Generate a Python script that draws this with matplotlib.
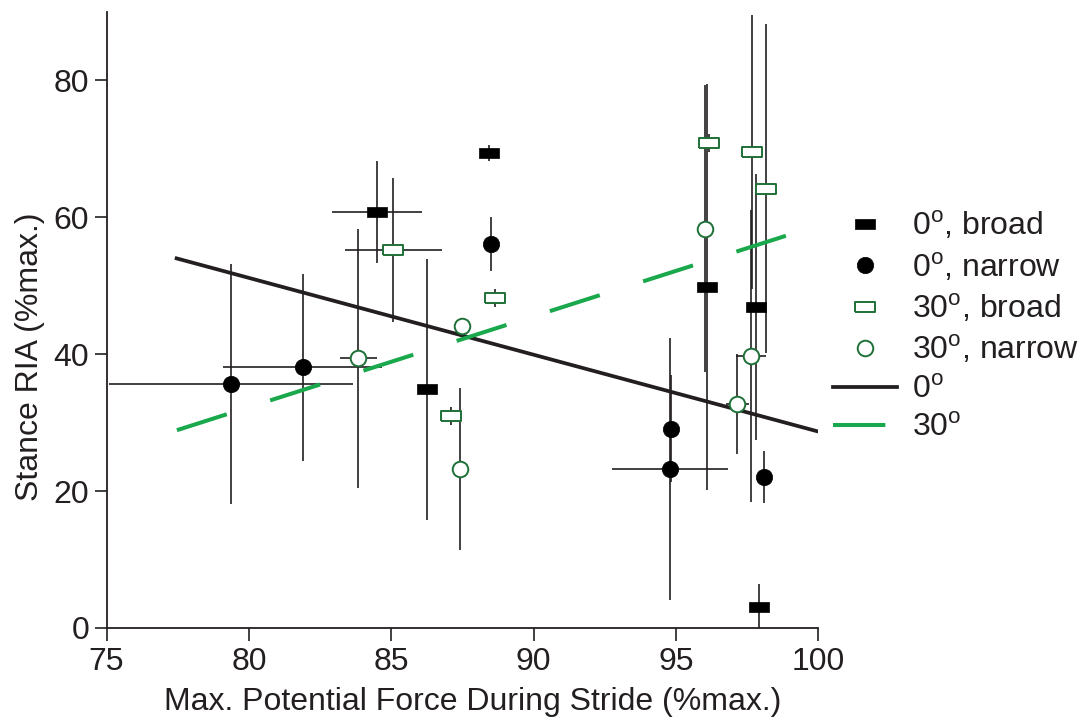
import matplotlib
matplotlib.use("Agg")
import matplotlib.pyplot as plt
import numpy as np

plt.rcParams['font.family'] = ['Liberation Sans', 'DejaVu Sans']
plt.rcParams['mathtext.fontset'] = 'custom'
plt.rcParams['mathtext.rm'] = 'Liberation Sans'

# 0 deg incline, broad base
broad0_x = [84.51, 88.44, 86.26, 96.09, 97.80, 97.91]
broad0_y = [60.83, 69.36, 34.88, 49.82, 46.90, 3.07]
broad0_xerr = [1.58, 0, 0, 0, 0, 0]
broad0_yerr = [7.45, 1.2, 19.1, 29.7, 19.4, 3.3]

# 0 deg incline, narrow base
narrow0_x = [79.37, 81.89, 88.49, 94.81, 94.79, 98.10]
narrow0_y = [35.65, 38.09, 56.11, 29.13, 23.23, 22.11]
narrow0_xerr = [4.3, 2.8, 0, 0, 2.05, 0]
narrow0_yerr = [17.5, 13.7, 3.9, 7.8, 19.1, 3.8]

# 30 deg incline, broad base
broad30_x = [85.07, 87.10, 88.63, 96.17, 97.68, 98.16]
broad30_y = [55.27, 30.98, 48.17, 70.86, 69.53, 64.20]
broad30_xerr = [1.7, 0, 0, 0, 0, 0]
broad30_yerr = [10.5, 1.3, 1.3, 1.3, 20.0, 24.0]

# 30 deg incline, narrow base
narrow30_x = [83.84, 87.41, 87.48, 96.03, 97.15, 97.63]
narrow30_y = [39.4, 23.23, 44.1, 58.36, 32.67, 39.70]
narrow30_xerr = [0.65, 0, 0, 0, 0.4, 0.53]
narrow30_yerr = [18.95, 11.8, 0, 21.0, 7.3, 21.3]

# regression lines (end points)
fit0_x = [77.46, 100.0]
fit0_y = [54.0, 28.7]
fit30_x = [77.47, 98.86]
fit30_y = [28.9, 57.3]

xticks = [75, 80, 85, 90, 95, 100]
yticks = [0, 20, 40, 60, 80]

ink = '#231f20'
green = '#19a84c'
dkgreen = '#1e7038'
rect = [(-1, -0.5), (1, -0.5), (1, 0.5), (-1, 0.5), (-1, -0.5)]

fig = plt.figure(figsize=(10.79, 7.22), dpi=100)
ax = fig.add_axes([0.0988, 0.1302, 0.6596, 0.8532])

for xs, ys, xe, ye in [(broad0_x, broad0_y, broad0_xerr, broad0_yerr),
                       (narrow0_x, narrow0_y, narrow0_xerr, narrow0_yerr),
                       (broad30_x, broad30_y, broad30_xerr, broad30_yerr),
                       (narrow30_x, narrow30_y, narrow30_xerr, narrow30_yerr)]:
    ax.errorbar(xs, ys, xerr=xe, yerr=ye, fmt='none', ecolor=ink,
                elinewidth=1.2, capsize=0, zorder=2)

ax.plot(broad0_x, broad0_y, ls='none', marker=rect, ms=14.4, mfc='black',
        mec='black', mew=0.5, label='0$^\\mathrm{o}$, broad', zorder=5)
ax.plot(narrow0_x, narrow0_y, ls='none', marker='o', ms=11.8, mfc='black',
        mec='black', mew=0.5, label='0$^\\mathrm{o}$, narrow', zorder=5)
ax.plot(broad30_x, broad30_y, ls='none', marker=rect, ms=14.0, mfc='white',
        mec=dkgreen, mew=1.4, label='30$^\\mathrm{o}$, broad', zorder=5)
ax.plot(narrow30_x, narrow30_y, ls='none', marker='o', ms=11.2, mfc='white',
        mec=dkgreen, mew=1.4, label='30$^\\mathrm{o}$, narrow', zorder=5)

ax.plot(fit0_x, fit0_y, color=ink, lw=2.7, label='0$^\\mathrm{o}$', zorder=4)
ax.plot(fit30_x, fit30_y, color=green, lw=2.9, ls=(0, (13.0, 11.3)),
        label='30$^\\mathrm{o}$', zorder=4)

ax.set_xlim(75, 100)
ax.set_ylim(0, 90)
ax.set_xticks(xticks)
ax.set_yticks(yticks)
for side in ['top', 'right']:
    ax.spines[side].set_visible(False)
for side in ['left', 'bottom']:
    ax.spines[side].set_linewidth(1.3)
    ax.spines[side].set_color(ink)
ax.tick_params(length=9, width=1.2, color=ink, labelsize=23,
               labelcolor=ink, pad=3.5)
ax.tick_params(axis='x', pad=5)

ax.set_xlabel('Max. Potential Force During Stride (%max.)', fontsize=23,
              color=ink)
ax.set_ylabel('Stance RIA (%max.)', fontsize=23, color=ink)
ax.xaxis.set_label_coords(0.515, -0.095)
ax.yaxis.set_label_coords(-0.087, 0.441)

fig.legend(loc='center left', bbox_to_anchor=(0.772, 0.548), frameon=False,
           fontsize=23, borderpad=0, borderaxespad=0, handlelength=2.0,
           handletextpad=0.47, labelspacing=0.27, labelcolor=ink)

fig.savefig('out.png', dpi=100)
